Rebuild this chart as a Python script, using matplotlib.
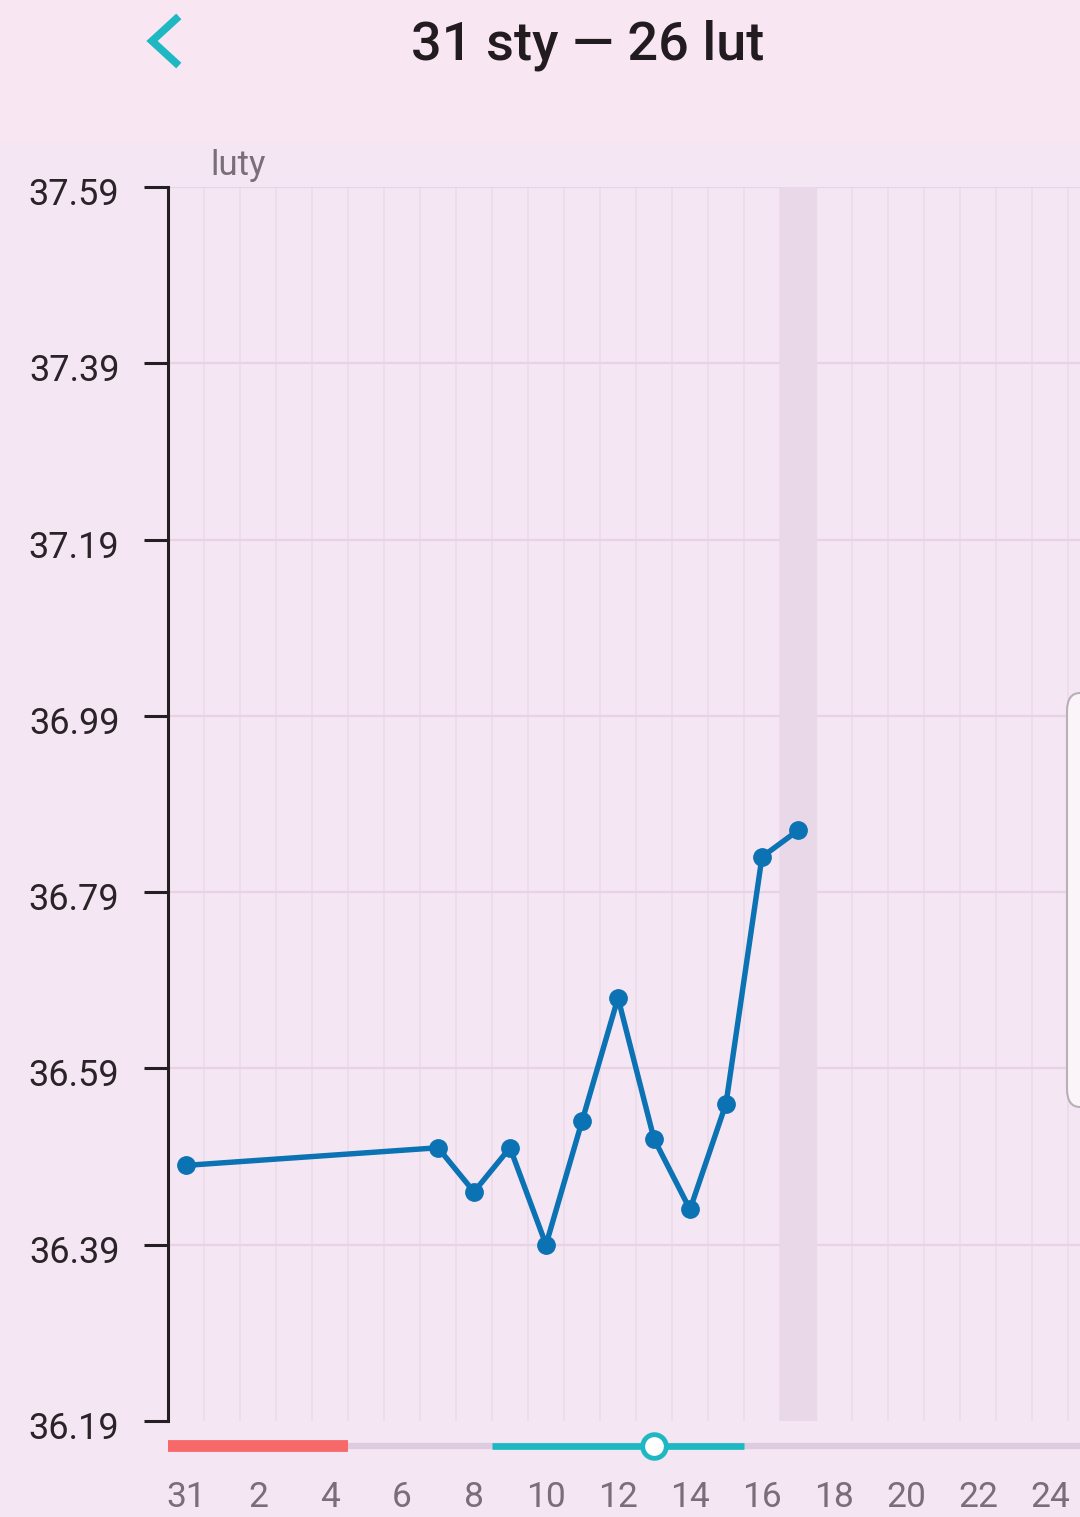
import numpy as np
import matplotlib
matplotlib.use('Agg')
import matplotlib.pyplot as plt
import matplotlib.transforms as mtransforms
from matplotlib.patches import Rectangle, FancyBboxPatch

plt.rcParams['font.family'] = ['Roboto', 'DejaVu Sans']

# data: day index 0 = 31 Jan, 1 = 1 Feb, ...
days = [0, 7, 8, 9, 10, 11, 12, 13, 14, 15, 16, 17]
temps = [36.48, 36.50, 36.45, 36.50, 36.39, 36.53, 36.67, 36.51, 36.43, 36.55, 36.83, 36.86]
yticks = [36.19, 36.39, 36.59, 36.79, 36.99, 37.19, 37.39, 37.59]
xtick_pos = list(range(0, 25, 2))
xtick_labels = ['31', '2', '4', '6', '8', '10', '12', '14', '16', '18', '20', '22', '24']
highlight_day = 17
red_span = (-0.5, 4.5)
teal_span = (8.5, 15.5)
marker_day = 13

W, H = 1080, 1517
fig = plt.figure(figsize=(W / 100, H / 100), dpi=100, facecolor='#F8E7F3')

# lower background band
fig.patches.append(Rectangle((0, 0), 1, (H - 142) / H, transform=fig.transFigure,
                             facecolor='#F5E6F4', edgecolor='none', zorder=0))

ax = fig.add_axes([168 / W, (H - 1421) / H, 912 / W, 1234 / H])
ax.set_zorder(2)
ax.set_facecolor('#F5E6F4')
x0 = -0.5
x1 = x0 + 912 / 36
ax.set_xlim(x0, x1)
ax.set_ylim(36.19, 37.59)

# grid
for xv in np.arange(0.5, x1, 1.0):
    ax.axvline(xv, color='#ECDCEA', lw=1.2, zorder=1)
for yv in yticks[1:]:
    ax.axhline(yv, color='#E6D3E3', lw=1.6, zorder=1)
ax.axvspan(highlight_day - 0.5, highlight_day + 0.5, color='#E9D9E8', zorder=1)

ax.plot(days, temps, color='#0B72B4', lw=3.9, marker='o', markersize=12.5,
        zorder=4, solid_joinstyle='round')

for s in ['top', 'right', 'bottom']:
    ax.spines[s].set_visible(False)
ax.spines['left'].set_color('#231F22')
ax.spines['left'].set_linewidth(2.2)
ax.set_yticks(yticks)
ax.set_yticklabels(['%.2f' % v for v in yticks])
ax.tick_params(axis='y', direction='out', length=17, width=2.2, color='#231F22',
               pad=18, labelsize=26, labelcolor='#2A2328')
shift = mtransforms.ScaledTranslation(0, -4 / 100, fig.dpi_scale_trans)
for lab in ax.get_yticklabels():
    lab.set_transform(lab.get_transform() + shift)
ax.set_xticks(xtick_pos)
ax.set_xticklabels(xtick_labels)
ax.tick_params(axis='x', length=0, pad=43, labelsize=25.5, labelcolor='#7A6E78')

# slider bar below the axis
yb = 36.19 - 25 / 881.5
ax.plot([x0, x1], [yb, yb], color='#DCCCDD', lw=4.5, solid_capstyle='butt',
        clip_on=False, zorder=3)
ax.plot(red_span, [yb, yb], color='#F76868', lw=8.5, solid_capstyle='butt',
        clip_on=False, zorder=4)
ax.plot(teal_span, [yb, yb], color='#1DB8C2', lw=4.8, solid_capstyle='butt',
        clip_on=False, zorder=4)
ax.plot([marker_day], [yb], marker='o', markersize=17, markerfacecolor='white',
        markeredgecolor='#1DB8C2', markeredgewidth=3.5, clip_on=False, zorder=5)

# partial tooltip at the right edge
fig.patches.append(FancyBboxPatch((1067 / W, (H - 1107) / H), 60 / W, 414 / H,
                                  boxstyle='round,pad=0,rounding_size=0.012',
                                  transform=fig.transFigure, facecolor='#FBF5FA',
                                  edgecolor='#B9AFB7', lw=1.5, zorder=6))

# header
fig.text(588 / W, 1 - 45 / H, '31 sty \u2014 26 lut', ha='center', va='center',
         fontsize=39, fontweight='medium', color='#221C20')
fig.lines.append(plt.Line2D([176 / W, 152 / W, 176 / W],
                            [1 - 19 / H, 1 - 41 / H, 1 - 63 / H],
                            transform=fig.transFigure, color='#1DB8C2', lw=5.5,
                            solid_joinstyle='miter'))
fig.text(210 / W, 1 - 165 / H, 'luty', ha='left', va='center', fontsize=25,
         color='#7A6E78')

fig.savefig('out.png', dpi=100, facecolor=fig.get_facecolor())
